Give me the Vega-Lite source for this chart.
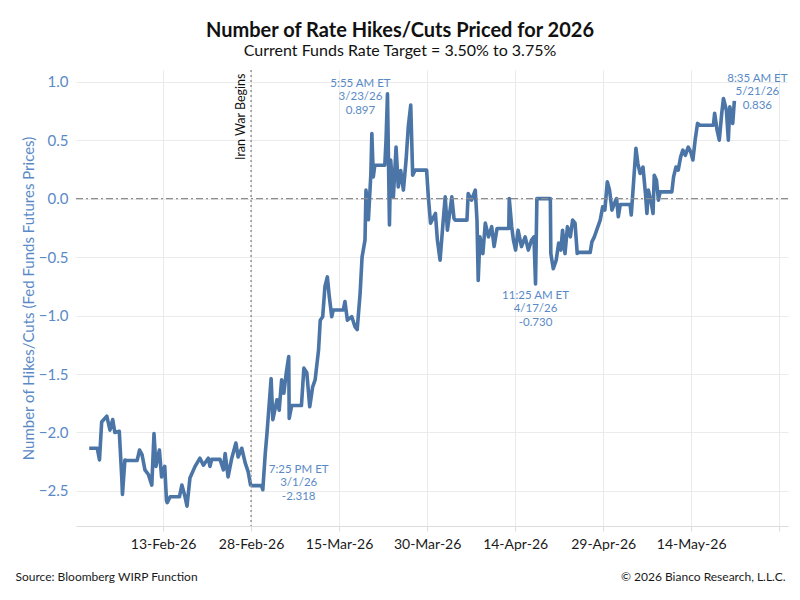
{
  "$schema": "https://vega.github.io/schema/vega-lite/v6.json",
  "autosize": {"type": "none"},
  "padding": {"left": 76, "top": 70, "right": 12, "bottom": 74},
  "width": 712,
  "height": 456,
  "title": {
    "text": "Number of Rate Hikes/Cuts Priced for 2026",
    "subtitle": "Current Funds Rate Target = 3.50% to 3.75%",
    "anchor": "middle",
    "dx": -32,
    "offset": 10,
    "fontSize": 20,
    "fontWeight": "bold",
    "color": "#111111",
    "subtitleFontSize": 16,
    "subtitleColor": "#111111",
    "subtitlePadding": 2
  },
  "config": {
    "font": "Lato",
    "view": {"stroke": null},
    "axis": {"gridColor": "#ebebeb", "gridWidth": 1}
  },
  "resolve": {"axis": {"x": "independent"}},
  "layer": [
    {
      "data": {
        "values": [
          {"t": "2026-01-31T10:00", "v": -2.135},
          {"t": "2026-02-01T19:00", "v": -2.135},
          {"t": "2026-02-02T04:00", "v": -2.235},
          {"t": "2026-02-02T13:00", "v": -1.91},
          {"t": "2026-02-03T10:00", "v": -1.86},
          {"t": "2026-02-03T23:00", "v": -1.98},
          {"t": "2026-02-04T10:00", "v": -1.89},
          {"t": "2026-02-04T19:00", "v": -2.0},
          {"t": "2026-02-05T13:00", "v": -1.99},
          {"t": "2026-02-05T23:00", "v": -2.38},
          {"t": "2026-02-06T02:00", "v": -2.53},
          {"t": "2026-02-06T12:00", "v": -2.235},
          {"t": "2026-02-06T19:00", "v": -2.24},
          {"t": "2026-02-08T14:00", "v": -2.24},
          {"t": "2026-02-09T00:00", "v": -2.15},
          {"t": "2026-02-09T10:00", "v": -2.19},
          {"t": "2026-02-09T22:00", "v": -2.32},
          {"t": "2026-02-10T12:00", "v": -2.36},
          {"t": "2026-02-11T02:00", "v": -2.45},
          {"t": "2026-02-11T11:00", "v": -2.01},
          {"t": "2026-02-11T19:00", "v": -2.29},
          {"t": "2026-02-12T09:00", "v": -2.15},
          {"t": "2026-02-12T18:00", "v": -2.38},
          {"t": "2026-02-13T07:00", "v": -2.29},
          {"t": "2026-02-13T14:00", "v": -2.58},
          {"t": "2026-02-13T17:00", "v": -2.6},
          {"t": "2026-02-14T05:00", "v": -2.55},
          {"t": "2026-02-15T19:00", "v": -2.55},
          {"t": "2026-02-16T05:00", "v": -2.45},
          {"t": "2026-02-16T18:00", "v": -2.55},
          {"t": "2026-02-17T02:00", "v": -2.63},
          {"t": "2026-02-17T14:00", "v": -2.39},
          {"t": "2026-02-18T11:00", "v": -2.29},
          {"t": "2026-02-19T07:00", "v": -2.22},
          {"t": "2026-02-19T21:00", "v": -2.28},
          {"t": "2026-02-20T17:00", "v": -2.22},
          {"t": "2026-02-21T00:00", "v": -2.29},
          {"t": "2026-02-21T07:00", "v": -2.23},
          {"t": "2026-02-22T17:00", "v": -2.23},
          {"t": "2026-02-23T07:00", "v": -2.32},
          {"t": "2026-02-23T14:00", "v": -2.18},
          {"t": "2026-02-24T02:00", "v": -2.38},
          {"t": "2026-02-24T17:00", "v": -2.22},
          {"t": "2026-02-25T10:00", "v": -2.09},
          {"t": "2026-02-25T19:00", "v": -2.21},
          {"t": "2026-02-26T10:00", "v": -2.135},
          {"t": "2026-02-27T00:00", "v": -2.26},
          {"t": "2026-02-27T12:00", "v": -2.335},
          {"t": "2026-02-27T22:00", "v": -2.45},
          {"t": "2026-02-28T02:00", "v": -2.455},
          {"t": "2026-03-01T19:00", "v": -2.455},
          {"t": "2026-03-02T00:00", "v": -2.49},
          {"t": "2026-03-02T10:00", "v": -2.18},
          {"t": "2026-03-02T17:00", "v": -2.01},
          {"t": "2026-03-03T10:00", "v": -1.54},
          {"t": "2026-03-03T17:00", "v": -1.89},
          {"t": "2026-03-04T10:00", "v": -1.72},
          {"t": "2026-03-04T19:00", "v": -1.81},
          {"t": "2026-03-05T05:00", "v": -1.55},
          {"t": "2026-03-05T14:00", "v": -1.665},
          {"t": "2026-03-06T00:00", "v": -1.49},
          {"t": "2026-03-06T10:00", "v": -1.35},
          {"t": "2026-03-06T12:00", "v": -1.88},
          {"t": "2026-03-06T22:00", "v": -1.77},
          {"t": "2026-03-08T14:00", "v": -1.77},
          {"t": "2026-03-09T00:00", "v": -1.45},
          {"t": "2026-03-09T12:00", "v": -1.49},
          {"t": "2026-03-10T00:00", "v": -1.78},
          {"t": "2026-03-10T12:00", "v": -1.61},
          {"t": "2026-03-10T22:00", "v": -1.55},
          {"t": "2026-03-11T12:00", "v": -1.295},
          {"t": "2026-03-11T19:00", "v": -1.04},
          {"t": "2026-03-12T05:00", "v": -1.01},
          {"t": "2026-03-12T14:00", "v": -0.754},
          {"t": "2026-03-13T00:00", "v": -0.67},
          {"t": "2026-03-13T08:00", "v": -0.84},
          {"t": "2026-03-13T18:00", "v": -1.01},
          {"t": "2026-03-14T00:00", "v": -0.953},
          {"t": "2026-03-15T17:00", "v": -0.953},
          {"t": "2026-03-16T00:00", "v": -0.88},
          {"t": "2026-03-16T10:00", "v": -1.04},
          {"t": "2026-03-17T04:00", "v": -1.01},
          {"t": "2026-03-17T17:00", "v": -1.096},
          {"t": "2026-03-18T02:00", "v": -1.12},
          {"t": "2026-03-18T14:00", "v": -0.81},
          {"t": "2026-03-18T22:00", "v": -0.5},
          {"t": "2026-03-19T10:00", "v": -0.355},
          {"t": "2026-03-19T14:00", "v": 0.073},
          {"t": "2026-03-20T00:00", "v": -0.18},
          {"t": "2026-03-20T10:00", "v": 0.215},
          {"t": "2026-03-20T14:00", "v": 0.557},
          {"t": "2026-03-20T20:00", "v": 0.186},
          {"t": "2026-03-21T02:00", "v": 0.286},
          {"t": "2026-03-22T19:00", "v": 0.286},
          {"t": "2026-03-23T00:00", "v": 0.5},
          {"t": "2026-03-23T05:55", "v": 0.897},
          {"t": "2026-03-23T14:00", "v": -0.226},
          {"t": "2026-03-23T19:00", "v": 0.33},
          {"t": "2026-03-24T06:00", "v": 0.015},
          {"t": "2026-03-24T17:00", "v": 0.44},
          {"t": "2026-03-25T02:00", "v": 0.1},
          {"t": "2026-03-25T12:00", "v": 0.24},
          {"t": "2026-03-25T23:00", "v": 0.073},
          {"t": "2026-03-26T10:00", "v": 0.33},
          {"t": "2026-03-26T19:00", "v": 0.614},
          {"t": "2026-03-27T05:00", "v": 0.8},
          {"t": "2026-03-27T13:00", "v": 0.2},
          {"t": "2026-03-27T23:00", "v": 0.244},
          {"t": "2026-03-29T22:00", "v": 0.244},
          {"t": "2026-03-30T05:00", "v": 0.015},
          {"t": "2026-03-30T14:00", "v": -0.21},
          {"t": "2026-03-31T10:00", "v": -0.127},
          {"t": "2026-03-31T18:00", "v": -0.355},
          {"t": "2026-04-01T05:00", "v": -0.526},
          {"t": "2026-04-01T17:00", "v": -0.21},
          {"t": "2026-04-02T02:00", "v": 0.015},
          {"t": "2026-04-02T11:00", "v": -0.27},
          {"t": "2026-04-03T05:00", "v": 0.015},
          {"t": "2026-04-03T14:00", "v": -0.17},
          {"t": "2026-04-03T19:00", "v": -0.184},
          {"t": "2026-04-05T19:00", "v": -0.184},
          {"t": "2026-04-06T00:00", "v": 0.044},
          {"t": "2026-04-06T14:00", "v": -0.013},
          {"t": "2026-04-07T05:00", "v": 0.073},
          {"t": "2026-04-07T12:00", "v": -0.184},
          {"t": "2026-04-07T17:00", "v": -0.7},
          {"t": "2026-04-08T00:00", "v": -0.327},
          {"t": "2026-04-08T12:00", "v": -0.47},
          {"t": "2026-04-08T22:00", "v": -0.21},
          {"t": "2026-04-09T11:00", "v": -0.327},
          {"t": "2026-04-10T00:00", "v": -0.24},
          {"t": "2026-04-10T10:00", "v": -0.41},
          {"t": "2026-04-10T22:00", "v": -0.255},
          {"t": "2026-04-12T22:00", "v": -0.255},
          {"t": "2026-04-13T00:00", "v": 0.0},
          {"t": "2026-04-13T10:00", "v": -0.24},
          {"t": "2026-04-13T17:00", "v": -0.355},
          {"t": "2026-04-14T02:00", "v": -0.44},
          {"t": "2026-04-14T12:00", "v": -0.27},
          {"t": "2026-04-15T02:00", "v": -0.41},
          {"t": "2026-04-15T17:00", "v": -0.327},
          {"t": "2026-04-16T06:00", "v": -0.44},
          {"t": "2026-04-16T19:00", "v": -0.355},
          {"t": "2026-04-17T05:00", "v": -0.327},
          {"t": "2026-04-17T11:25", "v": -0.73},
          {"t": "2026-04-17T17:00", "v": 0.0},
          {"t": "2026-04-20T00:00", "v": 0.0},
          {"t": "2026-04-20T02:00", "v": -0.47},
          {"t": "2026-04-20T12:00", "v": -0.6},
          {"t": "2026-04-21T00:00", "v": -0.526},
          {"t": "2026-04-21T10:00", "v": -0.38},
          {"t": "2026-04-21T19:00", "v": -0.44},
          {"t": "2026-04-22T02:00", "v": -0.27},
          {"t": "2026-04-22T12:00", "v": -0.47},
          {"t": "2026-04-22T22:00", "v": -0.24},
          {"t": "2026-04-23T10:00", "v": -0.327},
          {"t": "2026-04-23T19:00", "v": -0.184},
          {"t": "2026-04-24T05:00", "v": -0.21},
          {"t": "2026-04-24T14:00", "v": -0.47},
          {"t": "2026-04-24T19:00", "v": -0.46},
          {"t": "2026-04-26T19:00", "v": -0.46},
          {"t": "2026-04-27T02:00", "v": -0.37},
          {"t": "2026-04-27T12:00", "v": -0.327},
          {"t": "2026-04-28T00:00", "v": -0.255},
          {"t": "2026-04-28T12:00", "v": -0.184},
          {"t": "2026-04-28T22:00", "v": -0.07},
          {"t": "2026-04-29T07:00", "v": -0.098},
          {"t": "2026-04-29T17:00", "v": 0.144},
          {"t": "2026-04-30T02:00", "v": 0.073},
          {"t": "2026-04-30T12:00", "v": -0.098},
          {"t": "2026-04-30T22:00", "v": -0.04},
          {"t": "2026-05-01T07:00", "v": 0.0},
          {"t": "2026-05-01T14:00", "v": -0.155},
          {"t": "2026-05-01T22:00", "v": -0.05},
          {"t": "2026-05-03T14:00", "v": -0.05},
          {"t": "2026-05-03T19:00", "v": -0.14},
          {"t": "2026-05-04T05:00", "v": 0.158},
          {"t": "2026-05-04T14:00", "v": 0.43},
          {"t": "2026-05-04T22:00", "v": 0.3},
          {"t": "2026-05-05T07:00", "v": 0.215},
          {"t": "2026-05-05T19:00", "v": 0.27},
          {"t": "2026-05-06T05:00", "v": 0.044},
          {"t": "2026-05-06T11:00", "v": -0.127},
          {"t": "2026-05-06T17:00", "v": 0.073},
          {"t": "2026-05-07T05:00", "v": -0.04},
          {"t": "2026-05-07T12:00", "v": -0.127},
          {"t": "2026-05-07T17:00", "v": 0.2},
          {"t": "2026-05-08T02:00", "v": 0.158},
          {"t": "2026-05-08T10:00", "v": -0.013},
          {"t": "2026-05-08T17:00", "v": 0.058},
          {"t": "2026-05-10T17:00", "v": 0.058},
          {"t": "2026-05-11T00:00", "v": 0.186},
          {"t": "2026-05-11T10:00", "v": 0.27},
          {"t": "2026-05-11T19:00", "v": 0.244},
          {"t": "2026-05-12T05:00", "v": 0.357},
          {"t": "2026-05-12T14:00", "v": 0.415},
          {"t": "2026-05-13T00:00", "v": 0.37},
          {"t": "2026-05-13T12:00", "v": 0.44},
          {"t": "2026-05-13T22:00", "v": 0.4},
          {"t": "2026-05-14T07:00", "v": 0.33},
          {"t": "2026-05-14T17:00", "v": 0.514},
          {"t": "2026-05-15T02:00", "v": 0.643},
          {"t": "2026-05-15T12:00", "v": 0.628},
          {"t": "2026-05-17T19:00", "v": 0.628},
          {"t": "2026-05-18T00:00", "v": 0.73},
          {"t": "2026-05-18T10:00", "v": 0.585},
          {"t": "2026-05-18T19:00", "v": 0.5},
          {"t": "2026-05-19T05:00", "v": 0.73},
          {"t": "2026-05-19T12:00", "v": 0.856},
          {"t": "2026-05-20T00:00", "v": 0.756},
          {"t": "2026-05-20T08:00", "v": 0.5},
          {"t": "2026-05-20T14:00", "v": 0.785},
          {"t": "2026-05-21T02:00", "v": 0.643},
          {"t": "2026-05-21T08:35", "v": 0.836}
        ]
      },
      "mark": {"type": "line", "color": "#4a75a6", "strokeWidth": 3.6, "strokeJoin": "round"},
      "encoding": {
        "x": {
          "field": "t",
          "type": "temporal",
          "scale": {
            "domain": [
              {"year": 2026, "month": 1, "date": 29, "hours": 4},
              {"year": 2026, "month": 5, "date": 30, "hours": 12}
            ]
          },
          "axis": {
            "values": [
              {"year": 2026, "month": 2, "date": 13},
              {"year": 2026, "month": 2, "date": 28},
              {"year": 2026, "month": 3, "date": 15},
              {"year": 2026, "month": 3, "date": 30},
              {"year": 2026, "month": 4, "date": 14},
              {"year": 2026, "month": 4, "date": 29},
              {"year": 2026, "month": 5, "date": 14},
              {"year": 2026, "month": 5, "date": 29}
            ],
            "labelExpr": "timeFormat(datum.value, '%m-%d') == '05-29' ? '' : timeFormat(datum.value, '%d-%b-%y')",
            "labelFontSize": 14,
            "labelColor": "#1a1a1a",
            "labelPadding": 6,
            "labelFlush": false,
            "domainColor": "#dddddd",
            "tickColor": "#dddddd",
            "tickSize": 5,
            "grid": true,
            "title": "Source: Bloomberg WIRP Function",
            "titleFontSize": 12,
            "titleFontWeight": "normal",
            "titleColor": "#1a1a1a",
            "titleAlign": "left",
            "titleAnchor": null,
            "titleBaseline": "alphabetic",
            "titleX": -61,
            "titleY": 54
          }
        },
        "y": {
          "field": "v",
          "type": "quantitative",
          "scale": {"domain": [-2.8, 1.1], "nice": false, "zero": false},
          "axis": {
            "values": [-2.5, -2, -1.5, -1, -0.5, 0, 0.5, 1],
            "format": ".1f",
            "labelFontSize": 15,
            "labelColor": "#5a8ac6",
            "labelPadding": 8,
            "domain": false,
            "ticks": false,
            "grid": true,
            "title": "Number of Hikes/Cuts (Fed Funds Futures Prices)",
            "titleFontSize": 15,
            "titleFontWeight": "normal",
            "titleColor": "#5a8ac6",
            "titlePadding": 2
          }
        }
      }
    },
    {
      "data": {"values": [{"v": 0}]},
      "mark": {"type": "rule", "color": "#8c8c8c", "strokeWidth": 1.3, "strokeDash": [7, 3, 2, 3]},
      "encoding": {"y": {"field": "v", "type": "quantitative"}}
    },
    {
      "data": {"values": [{"t": "2026-02-28T00:00", "label": "Iran War Begins"}]},
      "mark": {"type": "rule", "color": "#9a9a9a", "strokeWidth": 1.6, "strokeDash": [2, 3]},
      "encoding": {"x": {"field": "t", "type": "temporal", "axis": null}}
    },
    {
      "data": {"values": [{"t": "2026-02-28T00:00", "label": "Iran War Begins"}]},
      "mark": {"type": "text", "angle": 270, "align": "right", "baseline": "bottom", "dy": -3, "fontSize": 12.5, "color": "#111111"},
      "encoding": {
        "x": {
          "field": "t",
          "type": "temporal",
          "axis": {
            "orient": "bottom",
            "labels": false,
            "ticks": false,
            "domain": false,
            "grid": false,
            "title": "© 2026 Bianco Research, L.L.C.",
            "titleFontSize": 12,
            "titleFontWeight": "normal",
            "titleColor": "#1a1a1a",
            "titleAlign": "right",
            "titleAnchor": null,
            "titleBaseline": "alphabetic",
            "titleX": 709,
            "titleY": 54
          }
        },
        "y": {"datum": 1.07},
        "text": {"field": "label"}
      }
    },
    {
      "data": {"values": [{"t": "2026-03-23T05:55", "v": 0.897, "label": "5:55 AM ET\n3/23/26\n0.897"}]},
      "mark": {"type": "text", "lineBreak": "\n", "align": "center", "baseline": "top", "dx": -27, "dy": -16, "fontSize": 11.5, "lineHeight": 13.5, "color": "#5a8ac6"},
      "encoding": {
        "x": {"field": "t", "type": "temporal", "axis": null},
        "y": {"field": "v", "type": "quantitative"},
        "text": {"field": "label"}
      }
    },
    {
      "data": {"values": [{"t": "2026-05-21T08:35", "v": 0.836, "label": "8:35 AM ET\n5/21/26\n0.836"}]},
      "mark": {"type": "text", "lineBreak": "\n", "align": "center", "baseline": "top", "dx": 23, "dy": -28, "fontSize": 11.5, "lineHeight": 13.5, "color": "#5a8ac6"},
      "encoding": {
        "x": {"field": "t", "type": "temporal", "axis": null},
        "y": {"field": "v", "type": "quantitative"},
        "text": {"field": "label"}
      }
    },
    {
      "data": {"values": [{"t": "2026-04-17T11:25", "v": -0.73, "label": "11:25 AM ET\n4/17/26\n-0.730"}]},
      "mark": {"type": "text", "lineBreak": "\n", "align": "center", "baseline": "top", "dx": 0, "dy": 6, "fontSize": 11.5, "lineHeight": 13.5, "color": "#5a8ac6"},
      "encoding": {
        "x": {"field": "t", "type": "temporal", "axis": null},
        "y": {"field": "v", "type": "quantitative"},
        "text": {"field": "label"}
      }
    },
    {
      "data": {"values": [{"t": "2026-03-01T19:25", "v": -2.318, "label": "7:25 PM ET\n3/1/26\n-2.318"}]},
      "mark": {"type": "text", "lineBreak": "\n", "align": "center", "baseline": "top", "dx": 37, "dy": -6, "fontSize": 11.5, "lineHeight": 13.5, "color": "#5a8ac6"},
      "encoding": {
        "x": {"field": "t", "type": "temporal", "axis": null},
        "y": {"field": "v", "type": "quantitative"},
        "text": {"field": "label"}
      }
    }
  ]
}
